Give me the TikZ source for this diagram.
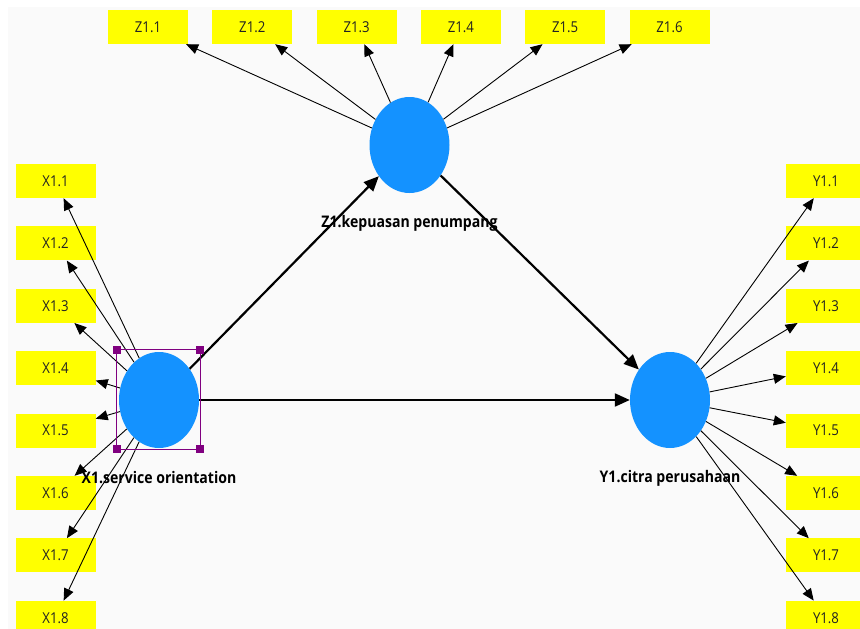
\documentclass[tikz,border=0pt]{standalone}
\usepackage{fontspec}
\setmainfont{Open Sans}[FakeStretch=0.88]
\usetikzlibrary{shapes.geometric,positioning,arrows.meta}
\definecolor{plsblue}{RGB}{20,146,255}
\definecolor{plsyellow}{RGB}{255,255,0}
\definecolor{canvasgray}{RGB}{250,250,250}
\definecolor{selpurple}{RGB}{128,0,128}
\definecolor{indtext}{RGB}{34,34,34}

\tikzset{
  ind/.style={rectangle, fill=plsyellow, minimum width=80pt, minimum height=34pt,
    inner sep=0pt, text=indtext, font=\fontsize{15}{17}\selectfont},
  lv/.style={ellipse, fill=plsblue, minimum width=80pt, minimum height=96pt, inner sep=0pt},
  lvlabel/.style={font=\fontsize{16}{18}\selectfont\bfseries},
  load/.style={-{Triangle[length=12pt,width=10pt]}, line width=0.9pt},
  struct/.style={-{Triangle[length=15pt,width=13pt]}, line width=2.2pt},
  handle/.style={rectangle, fill=selpurple, minimum size=8pt, inner sep=0pt}
}

\begin{document}
\begin{tikzpicture}[x=1pt,y=-1pt,on grid,node distance=62.4pt]
		\useasboundingbox (0,0) rectangle (860,629);
		\fill[canvasgray] (8,7) rectangle (860,629);
		% indicators Z
		\node[ind] (z1) at (148,27) {Z1.1};
		\node[ind] (z2) [right=104.3pt of z1] {Z1.2};
		\node[ind] (z3) [right=104.3pt of z2] {Z1.3};
		\node[ind] (z4) [right=104.3pt of z3] {Z1.4};
		\node[ind] (z5) [right=104.3pt of z4] {Z1.5};
		\node[ind] (z6) [right=104.3pt of z5] {Z1.6};
		% indicators X
		\node[ind] (x1) at (55.5,181) {X1.1};
		\node[ind] (x2) [below=of x1] {X1.2};
		\node[ind] (x3) [below=of x2] {X1.3};
		\node[ind] (x4) [below=of x3] {X1.4};
		\node[ind] (x5) [below=of x4] {X1.5};
		\node[ind] (x6) [below=of x5] {X1.6};
		\node[ind] (x7) [below=of x6] {X1.7};
		\node[ind] (x8) [below=of x7] {X1.8};
		% indicators Y
		\node[ind] (y1) [right=770.5pt of x1] {Y1.1};
		\node[ind] (y2) [below=of y1] {Y1.2};
		\node[ind] (y3) [below=of y2] {Y1.3};
		\node[ind] (y4) [below=of y3] {Y1.4};
		\node[ind] (y5) [below=of y4] {Y1.5};
		\node[ind] (y6) [below=of y5] {Y1.6};
		\node[ind] (y7) [below=of y6] {Y1.7};
		\node[ind] (y8) [below=of y7] {Y1.8};
		% latent variables
		\node[lv] (xlv) at (159,400) {};
		\node[lv] (zlv) at (409.5,145) {};
		\node[lv] (ylv) [right=511pt of xlv] {};
		\node[lvlabel] (xlab) [below=78pt of xlv] {X1.service orientation};
		\node[lvlabel] (zlab) [below=78pt of zlv] {Z1.kepuasan penumpang};
		\node[lvlabel] (ylab) [below=78pt of ylv] {Y1.citra perusahaan};
		\path[load]
		(zlv) edge (z1)
		(zlv) edge (z2)
		(zlv) edge (z3)
		(zlv) edge (z4)
		(zlv) edge (z5)
		(zlv) edge (z6)
		(xlv) edge (x1)
		(xlv) edge (x2)
		(xlv) edge (x3)
		(xlv) edge (x4)
		(xlv) edge (x5)
		(xlv) edge (x6)
		(xlv) edge (x7)
		(xlv) edge (x8)
		(ylv) edge (y1)
		(ylv) edge (y2)
		(ylv) edge (y3)
		(ylv) edge (y4)
		(ylv) edge (y5)
		(ylv) edge (y6)
		(ylv) edge (y7)
		(ylv) edge (y8);
		\path[struct]
		(xlv) edge (zlv)
		(zlv) edge (ylv)
		(xlv) edge (ylv);
		% selection frame
		\coordinate (selnw) at (xlv.west |- xlv.north);
		\coordinate (selse) at (xlv.east |- xlv.south);
		\coordinate (selne) at (xlv.east |- xlv.north);
		\coordinate (selsw) at (xlv.west |- xlv.south);
		\draw[selpurple, line width=1pt] ([shift={(-2,-2)}]selnw) rectangle ([shift={(1,1)}]selse);
		\node[handle] (h1) at ([shift={(-2,-2)}]selnw) {};
		\node[handle] (h2) at ([shift={(1,-2)}]selne) {};
		\node[handle] (h3) at ([shift={(-2,1)}]selsw) {};
		\node[handle] (h4) at ([shift={(1,1)}]selse) {};
\end{tikzpicture}
\end{document}
